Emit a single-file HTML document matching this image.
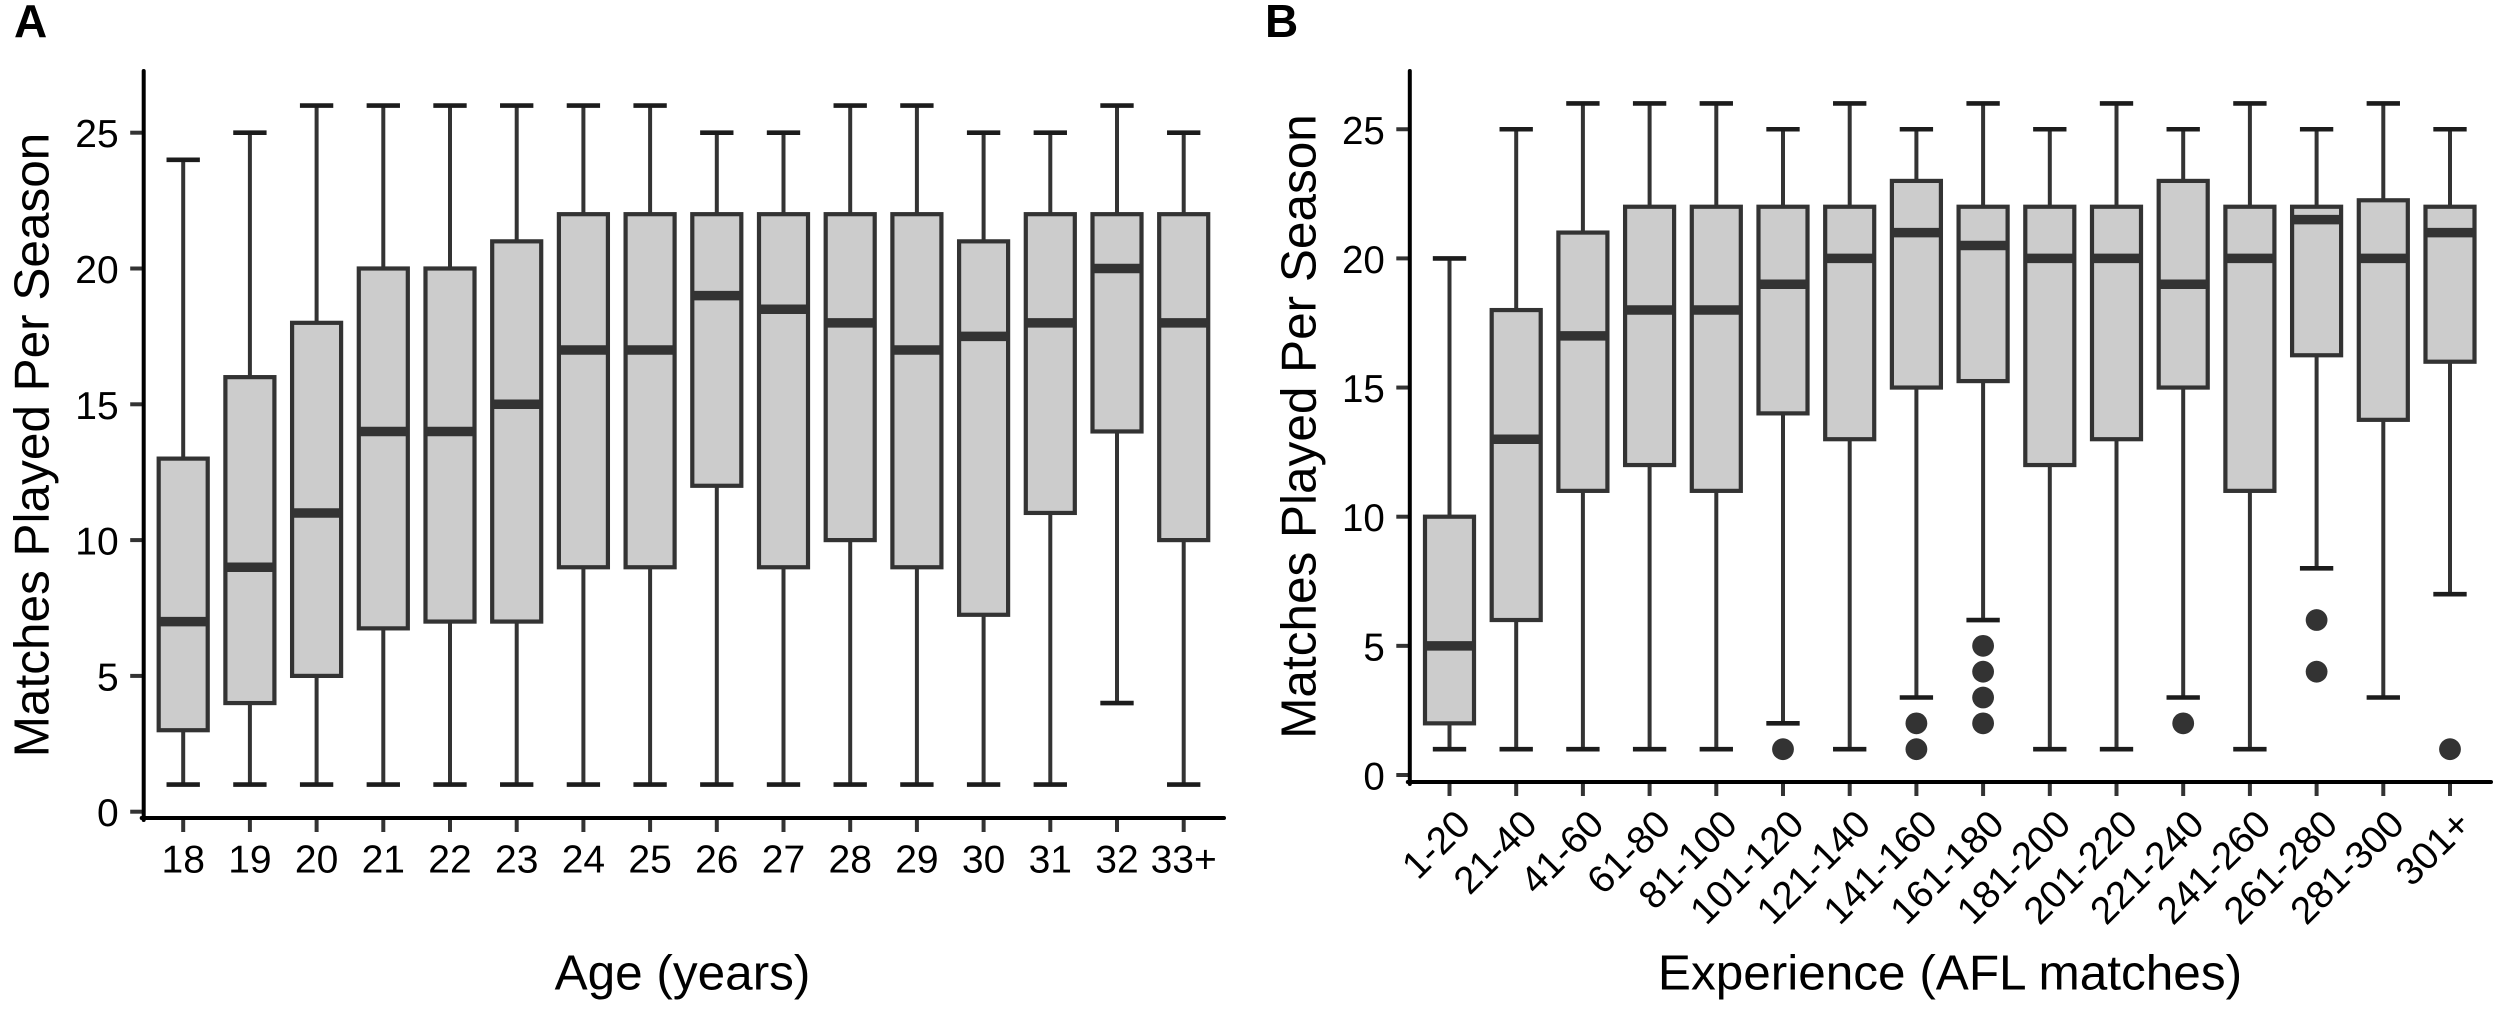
<!DOCTYPE html>
<html lang="en">
<head>
<meta charset="utf-8">
<title>Matches Played Per Season by Age and Experience</title>
<style>
  html, body { margin: 0; padding: 0; background: #fff; }
  svg { display: block; }
  text { font-family: "Liberation Sans", Arial, sans-serif; fill: #000; }
</style>
</head>
<body>
<svg id="figure" width="2500" height="1011" viewBox="0 0 2500 1011" xmlns="http://www.w3.org/2000/svg">
  <rect x="0" y="0" width="2500" height="1011" fill="#fff"/>
  <text x="14" y="37" font-size="46" font-weight="bold">A</text>
  <text x="1265" y="37" font-size="46" font-weight="bold">B</text>
  <text transform="translate(48.5,445) rotate(-90)" text-anchor="middle" font-size="49.5">Matches Played Per Season</text>
  <text transform="translate(1315.5,426.5) rotate(-90)" text-anchor="middle" font-size="49.5">Matches Played Per Season</text>
  <text x="682.5" y="989.3" text-anchor="middle" font-size="49.5">Age (years)</text>
  <text x="1950" y="989.3" text-anchor="middle" font-size="49.5">Experience (AFL matches)</text>
  <g id="panel-a"></g>
  <g id="panel-b"></g>
</svg>
<script>
// Panel A: age
const ageCategories = ['18','19','20','21','22','23','24','25','26','27','28','29','30','31','32','33+'];
const ageLow    = [1,1,1,1,1,1,1,1,1,1,1,1,1,1,4,1];
const ageQ1     = [3,4,5,6.75,7,7,9,9,12,9,10,9,7.25,11,14,10];
const ageMedian = [7,9,11,14,14,15,17,17,19,18.5,18,17,17.5,18,20,18];
const ageQ3     = [13,16,18,20,20,21,22,22,22,22,22,22,21,22,22,22];
const ageHigh   = [24,25,26,26,26,26,26,26,25,25,26,26,25,25,26,25];
const ageOutliers = [[],[],[],[],[],[],[],[],[],[],[],[],[],[],[],[]];

// Panel B: experience
const expCategories = ['1-20','21-40','41-60','61-80','81-100','101-120','121-140','141-160','161-180','181-200','201-220','221-240','241-260','261-280','281-300','301+'];
const expLow    = [1,1,1,1,1,2,1,3,6,1,1,3,1,8,3,7];
const expQ1     = [2,6,11,12,11,14,13,15,15.25,12,13,15,11,16.25,13.75,16];
const expMedian = [5,13,17,18,18,19,20,21,20.5,20,20,19,20,21.5,20,21];
const expQ3     = [10,18,21,22,22,22,22,23,22,22,22,23,22,22,22.25,22];
const expHigh   = [20,25,26,26,26,25,26,25,26,25,26,25,26,25,26,25];
const expOutliers = [[],[],[],[],[],[1],[],[1,2],[2,3,4,5],[],[],[2],[],[4,6],[],[1]];

const yTickValues = [0,5,10,15,20,25];

const SVG_NS = 'http://www.w3.org/2000/svg';
const INK = '#333333';

function makeShape(parent, tag, attrs) {
  const el = document.createElementNS(SVG_NS, tag);
  Object.keys(attrs).forEach(function (k) { el.setAttribute(k, attrs[k]); });
  parent.appendChild(el);
  return el;
}

function drawPanel(cfg) {
  const root = document.getElementById(cfg.id);
  const xScale = function (i) { return cfg.x0 + i * cfg.step; };
  const yScale = function (v) { return cfg.y0 - v * cfg.unit; };
  const boxW = cfg.step * 0.735;
  const capW = cfg.step * 0.5;

  cfg.categories.forEach(function (cat, i) {
    const cx = xScale(i);
    const group = makeShape(root, 'g', {});
    
    

    const upper = makeShape(group, 'line', { x1: cx, x2: cx, y1: yScale(cfg.q3[i]), y2: yScale(cfg.high[i]), stroke: INK, 'stroke-width': 4 });
    
    

    const lower = makeShape(group, 'line', { x1: cx, x2: cx, y1: yScale(cfg.q1[i]), y2: yScale(cfg.low[i]), stroke: INK, 'stroke-width': 4 });
    
    

    const capHigh = makeShape(group, 'line', { x1: cx - capW / 2, x2: cx + capW / 2, y1: yScale(cfg.high[i]), y2: yScale(cfg.high[i]), stroke: '#1c1c1c', 'stroke-width': 4.6 });
    
    

    const capLow = makeShape(group, 'line', { x1: cx - capW / 2, x2: cx + capW / 2, y1: yScale(cfg.low[i]), y2: yScale(cfg.low[i]), stroke: '#1c1c1c', 'stroke-width': 4.6 });
    
    

    const box = makeShape(group, 'rect', { x: cx - boxW / 2, y: yScale(cfg.q3[i]), width: boxW, height: yScale(cfg.q1[i]) - yScale(cfg.q3[i]), fill: '#cccccc', stroke: INK, 'stroke-width': 4.2 });
    
    

    const median = makeShape(group, 'line', { x1: cx - boxW / 2, x2: cx + boxW / 2, y1: yScale(cfg.median[i]), y2: yScale(cfg.median[i]), stroke: INK, 'stroke-width': 9.5 });
    
    

    cfg.outliers[i].forEach(function (v) {
      const dot = makeShape(group, 'circle', { cx: cx, cy: yScale(v), r: 10.9, fill: INK });
      
      
    });

    const tick = makeShape(root, 'line', { x1: cx, x2: cx, y1: cfg.axisY, y2: cfg.axisY + 14, stroke: INK, 'stroke-width': 4 });
    
    

    let label;
    if (cfg.rotated) {
      label = makeShape(root, 'text', { transform: 'translate(' + (cx + 23) + ',' + (cfg.axisY + 44.5) + ') rotate(-45)', 'text-anchor': 'end', 'font-size': cfg.tickFont });
    } else {
      label = makeShape(root, 'text', { x: cx, y: cfg.axisY + 54.5, 'text-anchor': 'middle', 'font-size': cfg.tickFont });
    }
    label.textContent = cat;
    
    
  });

  yTickValues.forEach(function (v) {
    const tick = makeShape(root, 'line', { x1: cfg.axisX - 13.5, x2: cfg.axisX, y1: yScale(v), y2: yScale(v), stroke: INK, 'stroke-width': 4 });
    
    

    const label = makeShape(root, 'text', { x: cfg.axisX - 25, y: yScale(v) + 14.5, 'text-anchor': 'end', 'font-size': cfg.tickFont });
    label.textContent = String(v);
    
    
  });

  const yAxis = makeShape(root, 'line', { x1: cfg.axisX, x2: cfg.axisX, y1: 71, y2: cfg.axisY + 2, stroke: '#000', 'stroke-width': 4, 'stroke-linecap': 'round' });
  
  

  const xAxis = makeShape(root, 'line', { x1: cfg.axisX - 2, x2: cfg.axisEnd, y1: cfg.axisY, y2: cfg.axisY, stroke: '#000', 'stroke-width': 4, 'stroke-linecap': 'round' });
  
  
}

drawPanel({
  id: 'panel-a', categories: ageCategories,
  low: ageLow, q1: ageQ1, median: ageMedian, q3: ageQ3, high: ageHigh, outliers: ageOutliers,
  x0: 183.2, step: 66.7, y0: 811.7, unit: 27.16,
  axisX: 143.7, axisY: 818, axisEnd: 1224, tickFont: 39, rotated: false
});

drawPanel({
  id: 'panel-b', categories: expCategories,
  low: expLow, q1: expQ1, median: expMedian, q3: expQ3, high: expHigh, outliers: expOutliers,
  x0: 1449.5, step: 66.7, y0: 775, unit: 25.83,
  axisX: 1409.8, axisY: 782, axisEnd: 2491, tickFont: 38.5, rotated: true
});
</script>
</body>
</html>
